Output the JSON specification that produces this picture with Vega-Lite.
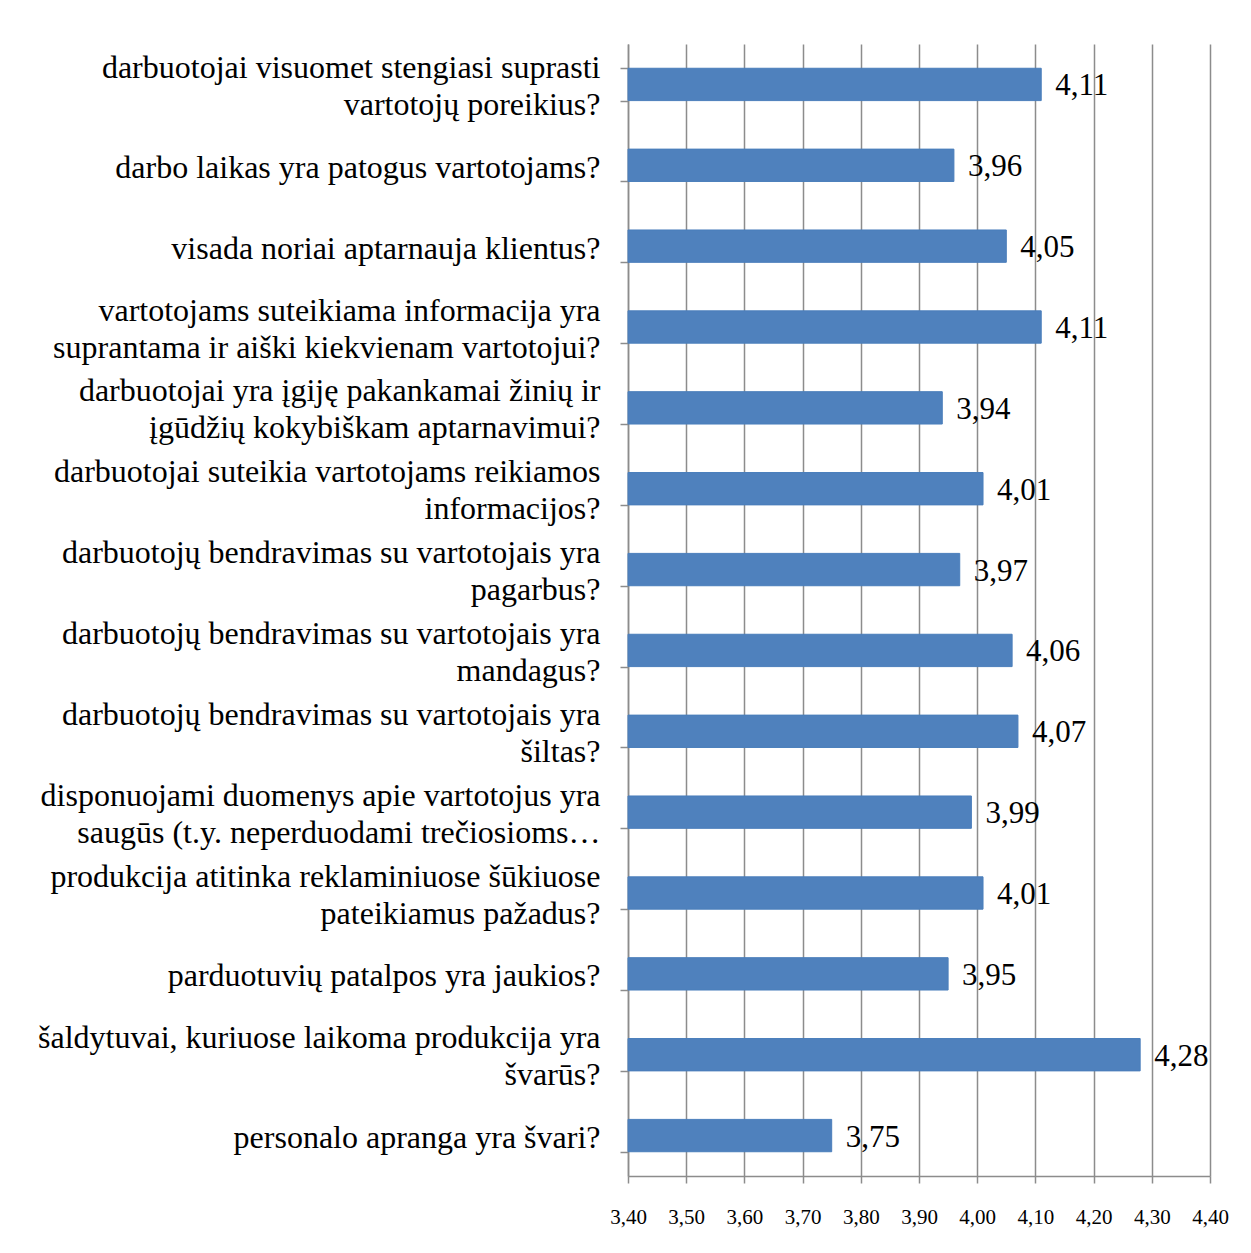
{
  "$schema": "https://vega.github.io/schema/vega-lite/v6.json",
  "autosize": {"type": "none"},
  "padding": {"left": 628, "top": 44, "right": 41, "bottom": 77},
  "width": 582,
  "height": 1132,
  "background": "white",
  "config": {
    "locale": {"number": {"decimal": ",", "thousands": " ", "grouping": [3], "currency": ["", ""]}},
    "font": "Liberation Serif",
    "view": {"stroke": null}
  },
  "data": {
    "values": [
      {"q": "darbuotojai visuomet stengiasi suprasti|vartotojų poreikius?", "v": 4.11},
      {"q": "darbo laikas yra patogus vartotojams?", "v": 3.96},
      {"q": "visada noriai aptarnauja klientus?", "v": 4.05},
      {"q": "vartotojams suteikiama informacija yra|suprantama ir aiški kiekvienam vartotojui?", "v": 4.11},
      {"q": "darbuotojai yra įgiję pakankamai žinių ir|įgūdžių kokybiškam aptarnavimui?", "v": 3.94},
      {"q": "darbuotojai suteikia vartotojams reikiamos|informacijos?", "v": 4.01},
      {"q": "darbuotojų bendravimas su vartotojais yra|pagarbus?", "v": 3.97},
      {"q": "darbuotojų bendravimas su vartotojais yra|mandagus?", "v": 4.06},
      {"q": "darbuotojų bendravimas su vartotojais yra|šiltas?", "v": 4.07},
      {"q": "disponuojami duomenys apie vartotojus yra|saugūs (t.y. neperduodami trečiosioms…", "v": 3.99},
      {"q": "produkcija atitinka reklaminiuose šūkiuose|pateikiamus pažadus?", "v": 4.01},
      {"q": "parduotuvių patalpos yra jaukios?", "v": 3.95},
      {"q": "šaldytuvai, kuriuose laikoma produkcija yra|švarūs?", "v": 4.28},
      {"q": "personalo apranga yra švari?", "v": 3.75}
    ]
  },
  "encoding": {
    "y": {
      "field": "q",
      "type": "nominal",
      "sort": null,
      "scale": {"paddingInner": 0.6, "paddingOuter": 0.3},
      "axis": {
        "title": null,
        "labelExpr": "datum.value ? split(datum.value, '|') : ''",
        "labelFont": "Liberation Serif",
        "labelFontSize": 32,
        "labelColor": "black",
        "labelLineHeight": 37,
        "labelPadding": 20,
        "labelOffset": {"condition": {"test": "datum.value && indexof(datum.value, '|') >= 0", "value": -17}, "value": 2},
        "labelLimit": 700,
        "tickBand": "extent",
        "tickSize": 8,
        "tickColor": "#8c8c8c",
        "tickWidth": 1.5,
        "domainColor": "#8c8c8c",
        "domainWidth": 1.5,
        "grid": false
      }
    },
    "x": {
      "field": "v",
      "type": "quantitative",
      "scale": {"domain": [3.4, 4.4], "zero": false, "nice": false},
      "axis": {
        "title": null,
        "values": [3.4, 3.5, 3.6, 3.7, 3.8, 3.9, 4.0, 4.1, 4.2, 4.3, 4.4],
        "format": ".2f",
        "labelFont": "Liberation Serif",
        "labelFontSize": 21,
        "labelColor": "black",
        "labelPadding": 23,
        "labelFlush": false,
        "tickSize": 7,
        "tickColor": "#8c8c8c",
        "tickWidth": 1.5,
        "domainColor": "#8c8c8c",
        "domainWidth": 1.5,
        "grid": true,
        "gridColor": "#8c8c8c",
        "gridWidth": 1.5
      }
    }
  },
  "layer": [
    {
      "mark": {"type": "bar", "color": "#4F81BD", "stroke": "#4A7EBB", "strokeWidth": 1},
      "encoding": {"x2": {"datum": 3.4}}
    },
    {
      "mark": {"type": "text", "align": "left", "baseline": "middle", "dx": 14, "dy": 2, "fontSize": 31, "color": "black", "font": "Liberation Serif"},
      "encoding": {"text": {"field": "v", "type": "quantitative", "format": ".2f"}}
    }
  ]
}
